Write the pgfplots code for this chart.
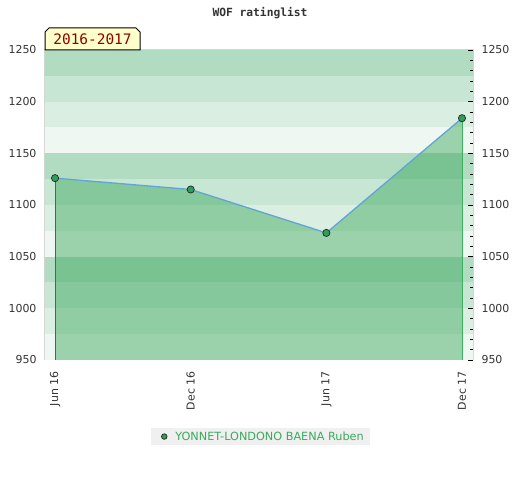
\documentclass[border=0pt]{standalone}
\usepackage{fontspec}
\setmainfont{DejaVu Sans}
\newfontfamily\monofont{DejaVu Sans Mono}
\usepackage{pgfplots}
\pgfplotsset{compat=1.18}

\definecolor{bandA}{HTML}{B2DCC2}
\definecolor{bandB}{HTML}{C8E6D4}
\definecolor{bandC}{HTML}{DBEEE2}
\definecolor{bandD}{HTML}{EEF7F1}
\definecolor{areagreen}{RGB}{46,162,82}
\definecolor{lineblue}{HTML}{62A4D8}
\definecolor{markgreen}{HTML}{2E9E58}
\definecolor{leftgreen}{HTML}{2D7A45}
\definecolor{rightgreen}{HTML}{3CB060}
\definecolor{framegray}{HTML}{D4D4D4}
\definecolor{labelgray}{HTML}{333333}
\definecolor{legendgray}{HTML}{F0F0F0}
\definecolor{legendgreen}{HTML}{3AAA5C}
\definecolor{boxyellow}{HTML}{FFFFCC}
\definecolor{boxred}{HTML}{8B0000}

\newcommand{\lblfont}{\fontsize{11}{13}\selectfont}

\begin{document}
\begin{tikzpicture}
\path[use as bounding box] (0bp,0bp) rectangle (520bp,480bp);

\begin{axis}[
    at={(45bp,120bp)}, anchor=south west,
    scale only axis, width=428bp, height=310bp,
    xmin=-0.074, xmax=3.081, ymin=950, ymax=1250,
    xtick={0,1,2,3},
    xticklabels={Jun 16,Dec 16,Jun 17,Dec 17},
    ytick={950,1000,...,1250},
    major tick length=0pt,
    axis line style={draw=framegray, line width=1bp},
    x tick label style={rotate=90, anchor=east, font=\lblfont, text=labelgray, xshift=-8bp},
    y tick label style={font=\lblfont, text=labelgray, xshift=-5bp},
    /pgf/number format/assume math mode=true,
    /pgf/number format/1000 sep={},
    legend style={at={(0.5035,-0.247)}, anchor=center, fill=legendgray, draw=none,
        font=\fontsize{11.3}{13}\selectfont, text=legendgreen, inner xsep=4bp, inner ysep=1.5bp},
    legend cell align=left,
]
% background bands
\fill[bandA] (axis cs:-1,1225) rectangle (axis cs:4,1250);
\fill[bandB] (axis cs:-1,1200) rectangle (axis cs:4,1225);
\fill[bandC] (axis cs:-1,1175) rectangle (axis cs:4,1200);
\fill[bandD] (axis cs:-1,1150) rectangle (axis cs:4,1175);
\fill[bandA] (axis cs:-1,1125) rectangle (axis cs:4,1150);
\fill[bandB] (axis cs:-1,1100) rectangle (axis cs:4,1125);
\fill[bandC] (axis cs:-1,1075) rectangle (axis cs:4,1100);
\fill[bandD] (axis cs:-1,1050) rectangle (axis cs:4,1075);
\fill[bandA] (axis cs:-1,1025) rectangle (axis cs:4,1050);
\fill[bandB] (axis cs:-1,1000) rectangle (axis cs:4,1025);
\fill[bandC] (axis cs:-1,975) rectangle (axis cs:4,1000);
\fill[bandD] (axis cs:-1,950) rectangle (axis cs:4,975);

\addplot[draw=none, fill=areagreen, fill opacity=0.43, forget plot]
    coordinates {(0,1126) (1,1115) (2,1073) (3,1184)} \closedcycle;
\addplot[leftgreen, line width=1bp, forget plot] coordinates {(0,950) (0,1126)};
\addplot[rightgreen, line width=1bp, forget plot] coordinates {(3,950) (3,1184)};
\addplot[lineblue, line width=1.3bp, mark=*, mark size=3.6bp,
    mark options={fill=markgreen, draw=black!85, line width=0.7bp},
    legend image code/.code={%
        \path[draw=none, fill=none] (-2bp,-1bp) rectangle (16bp,1bp);
        \draw[fill=markgreen, draw=black!85, line width=0.7bp] (7bp,0bp) circle (2.8bp);}]
    coordinates {(0,1126) (1,1115) (2,1073) (3,1184)};
\addlegendentry{YONNET-LONDONO BAENA Ruben}
\end{axis}

% right-hand scale
\begin{axis}[
    at={(45bp,120bp)}, anchor=south west,
    scale only axis, width=428bp, height=310bp,
    xmin=-0.074, xmax=3.081, ymin=950, ymax=1250,
    axis x line=none, axis y line*=right,
    y axis line style={draw=none},
    ytick={950,1000,...,1250},
    minor y tick num=4,
    tick align=inside,
    major tick length=5bp, minor tick length=3bp,
    every tick/.style={black, line width=0.8bp},
    y tick label style={font=\lblfont, text=labelgray, xshift=5bp},
    /pgf/number format/assume math mode=true,
    /pgf/number format/1000 sep={},
]
\end{axis}

% title
\node[font=\monofont\bfseries\fontsize{11.3}{13}\selectfont, text=labelgray] at (260bp,467bp) {WOF ratinglist};

% season label
\draw[fill=boxyellow, draw=black, line width=1bp]
    (45bp,430bp) -- (45bp,448bp) -- (49bp,452bp) -- (136bp,452bp) -- (140bp,448bp) -- (140bp,430bp) -- cycle;
\node[font=\monofont\fontsize{14.5}{16}\selectfont, text=boxred] at (92.5bp,440.5bp) {2016-2017};
\end{tikzpicture}
\end{document}
